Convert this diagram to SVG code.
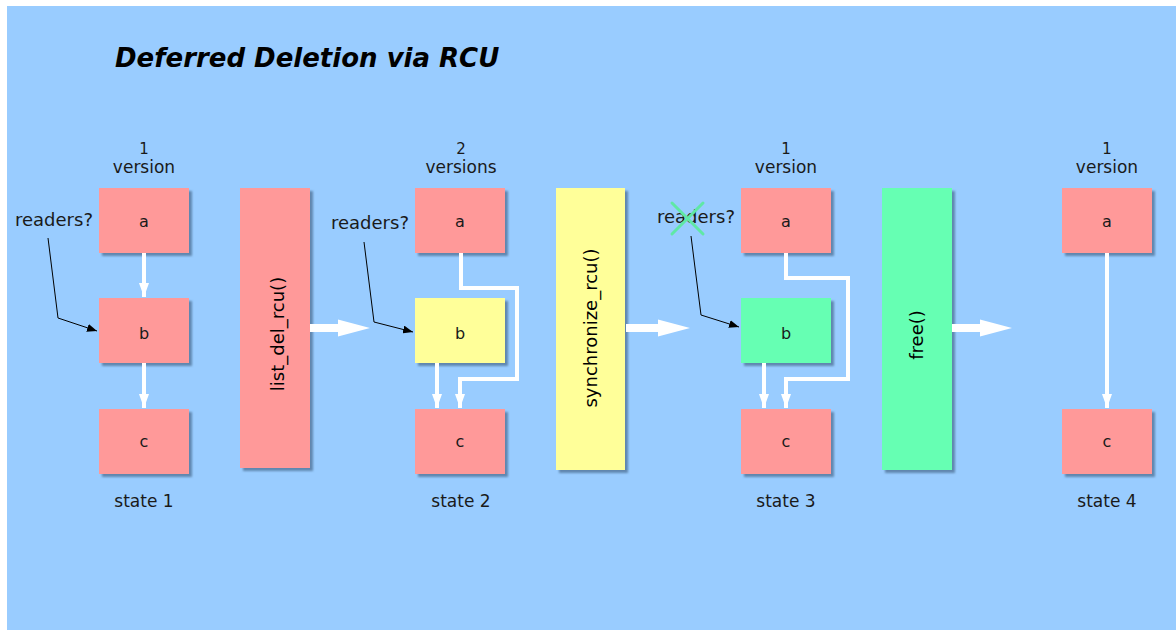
<svg xmlns="http://www.w3.org/2000/svg" width="1176" height="630" viewBox="0 0 1176 630">
  <style>
    text { font-family: "DejaVu Sans", Verdana, sans-serif; fill: #1a1a1a; }
    .title { font-size: 26px; font-weight: bold; font-style: italic; fill: #000; }
    .lbl { font-size: 17px; text-anchor: middle; }
    .num { font-size: 15px; text-anchor: middle; }
    .box-txt { font-size: 16px; text-anchor: middle; }
    .op-txt { font-size: 18px; text-anchor: middle; fill: #000; }
    .rd { font-size: 18px; }
    .pink { fill: #ff9999; }
    .yellow { fill: #ffff99; }
    .green { fill: #66ffb3; }
    .box { filter: url(#shadow); }
    .link { fill: none; stroke: #ffffff; stroke-width: 4; marker-end: url(#whiteHead); }
    .ptr { fill: none; stroke: #000; stroke-width: 1; marker-end: url(#blackHead); }
    .big { fill: #ffffff; }
  </style>
  <defs>
    <filter id="shadow" x="-10%" y="-10%" width="130%" height="130%">
      <feDropShadow dx="3" dy="3" stdDeviation="0.8" flood-color="#4d6f94" flood-opacity="0.75"/>
    </filter>
    <marker id="whiteHead" viewBox="0 0 14 10" refX="14" refY="5" markerWidth="14" markerHeight="10" markerUnits="userSpaceOnUse" orient="auto">
      <path d="M0,0 L14,5 L0,10 z" fill="#ffffff"/>
    </marker>
    <marker id="blackHead" viewBox="0 0 10 8" refX="10" refY="4" markerWidth="10" markerHeight="8" markerUnits="userSpaceOnUse" orient="auto">
      <path d="M0,0 L10,4 L0,8 z" fill="#000"/>
    </marker>
  </defs>

  <!-- backdrop -->
  <rect x="7" y="6" width="1169" height="624" fill="#99ccff"/>

  <text class="title" x="115" y="67">Deferred Deletion via RCU</text>

  <!-- headings and captions -->
  <g id="captions">
    <text class="num" x="144" y="154">1</text>
    <text class="lbl" x="144" y="173">version</text>
    <text class="num" x="461" y="154">2</text>
    <text class="lbl" x="461" y="173">versions</text>
    <text class="num" x="786" y="154">1</text>
    <text class="lbl" x="786" y="173">version</text>
    <text class="num" x="1107" y="154">1</text>
    <text class="lbl" x="1107" y="173">version</text>
    <text class="lbl" x="144" y="507">state 1</text>
    <text class="lbl" x="461" y="507">state 2</text>
    <text class="lbl" x="786" y="507">state 3</text>
    <text class="lbl" x="1107" y="507">state 4</text>
  </g>

  <!-- state 1 -->
  <g id="s1-a"><rect class="box pink" x="99" y="188" width="90" height="65"/><text class="box-txt" x="144" y="227">a</text></g>
  <g id="s1-b"><rect class="box pink" x="99" y="298" width="90" height="65"/><text class="box-txt" x="144" y="339">b</text></g>
  <g id="s1-c"><rect class="box pink" x="99" y="409" width="90" height="65"/><text class="box-txt" x="144" y="447">c</text></g>
  <g id="s1-readers"><text class="rd" x="15" y="226">readers?</text></g>

  <!-- list_del_rcu() -->
  <g id="op-list-del"><rect class="box pink" x="240" y="188" width="70" height="280"/><text class="op-txt" transform="translate(284,334) rotate(-90)">list_del_rcu()</text></g>

  <!-- state 2 -->
  <g id="s2-a"><rect class="box pink" x="415" y="188" width="90" height="65"/><text class="box-txt" x="460" y="227">a</text></g>
  <g id="s2-b"><rect class="box yellow" x="415" y="298" width="90" height="65"/><text class="box-txt" x="460" y="339">b</text></g>
  <g id="s2-c"><rect class="box pink" x="415" y="409" width="90" height="65"/><text class="box-txt" x="460" y="447">c</text></g>
  <g id="s2-readers"><text class="rd" x="331" y="229">readers?</text></g>

  <!-- synchronize_rcu() -->
  <g id="op-sync"><rect class="box yellow" x="556" y="188" width="69" height="282"/><text class="op-txt" transform="translate(597,328) rotate(-90)">synchronize_rcu()</text></g>

  <!-- state 3 -->
  <g id="s3-a"><rect class="box pink" x="741" y="188" width="90" height="65"/><text class="box-txt" x="786" y="227">a</text></g>
  <g id="s3-b"><rect class="box green" x="741" y="298" width="90" height="65"/><text class="box-txt" x="786" y="339">b</text></g>
  <g id="s3-c"><rect class="box pink" x="741" y="409" width="90" height="65"/><text class="box-txt" x="786" y="447">c</text></g>
  <g id="s3-readers">
    <text class="rd" x="657" y="223">readers?</text>
    <path d="M672,203 L703,234 M703,203 L672,234" stroke="#5fe8a6" stroke-width="3" stroke-linecap="round"/>
  </g>

  <!-- free() -->
  <g id="op-free"><rect class="box green" x="882" y="188" width="70" height="282"/><text class="op-txt" transform="translate(923,335) rotate(-90)">free()</text></g>

  <!-- state 4 -->
  <g id="s4-a"><rect class="box pink" x="1062" y="188" width="90" height="65"/><text class="box-txt" x="1107" y="227">a</text></g>
  <g id="s4-c"><rect class="box pink" x="1062" y="409" width="90" height="65"/><text class="box-txt" x="1107" y="447">c</text></g>

  <!-- connectors -->
  <g id="connectors">
    <!-- list links -->
    <path class="link" d="M144,253 V297"/>
    <path class="link" d="M144,363 V408"/>
    <path class="link" d="M461,253 V288 H517 V379 H460 V408"/>
    <path class="link" d="M437,363 V408"/>
    <path class="link" d="M786,253 V278 H848 V379 H786 V408"/>
    <path class="link" d="M764,363 V408"/>
    <path class="link" d="M1107,253 V408"/>
    <!-- reader pointers -->
    <path class="ptr" d="M48,238 L58,318 L97,331"/>
    <path class="ptr" d="M364,242 L374,322 L413,332"/>
    <path class="ptr" d="M691,236 L701,315 L739,327"/>
    <!-- transition arrows -->
    <polygon class="big" points="310,324 338,324 338,319.5 370,328 338,336.5 338,332 310,332"/>
    <polygon class="big" points="626,324 658,324 658,319.5 690,328 658,336.5 658,332 626,332"/>
    <polygon class="big" points="952,324 980,324 980,319.5 1012,328 980,336.5 980,332 952,332"/>
  </g>
</svg>
